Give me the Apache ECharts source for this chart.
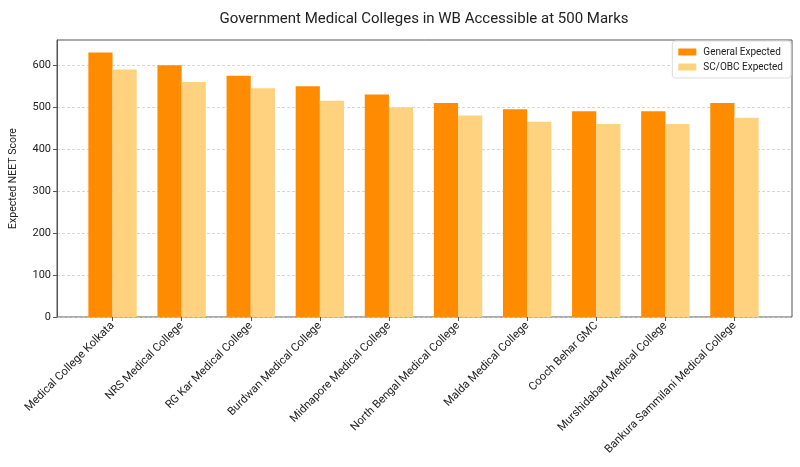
<!DOCTYPE html>
<html>
<head>
<meta charset="utf-8">
<script src="https://cdn.jsdelivr.net/npm/echarts@6/dist/echarts.min.js"></script>
<style>
  html, body { margin: 0; padding: 0; background: #fff; }
  #chart { width: 800px; height: 467px; }
</style>
</head>
<body>
<div id="chart"></div>
<script>
const colleges = [
  'Medical College Kolkata', 'NRS Medical College', 'RG Kar Medical College',
  'Burdwan Medical College', 'Midnapore Medical College', 'North Bengal Medical College',
  'Malda Medical College', 'Cooch Behar GMC', 'Murshidabad Medical College',
  'Bankura Sammilani Medical College',
]
const generalExpected = [630, 600, 575, 550, 530, 510, 495, 490, 490, 510]
const scObcExpected = [590, 560, 545, 515, 500, 480, 465, 460, 460, 475]
const yTicks = [0, 100, 200, 300, 400, 500, 600]

const FONT = 'Roboto, "Open Sans", sans-serif'
const SPINE = '#555'

const chart = echarts.init(document.getElementById('chart'), null, { renderer: 'canvas' })

chart.setOption({
  animation: false,
  textStyle: { fontFamily: FONT },
  title: {
    text: 'Government Medical Colleges in WB Accessible at 500 Marks',
    left: 419,
    textAlign: 'center',
    top: 7,
    textStyle: { fontSize: 15, fontWeight: 'normal', color: '#222', fontFamily: FONT },
  },
  legend: {
    orient: 'vertical',
    right: 9,
    top: 41,
    padding: [6, 8, 6, 6],
    itemGap: 5,
    itemWidth: 18,
    itemHeight: 7,
    borderColor: '#ddd',
    borderWidth: 1,
    borderRadius: 3,
    backgroundColor: '#fff',
    icon: 'rect',
    textStyle: { fontSize: 10, color: '#222', padding: [0, 0, 0, 2] },
    data: ['General Expected', 'SC/OBC Expected'],
  },
  grid: [
    // outer frame, holds the y scale
    { left: 55, right: 8, top: 40, bottom: 150, show: true, borderColor: SPINE, borderWidth: 1 },
    // inner area for the bars, with matplotlib-like side margins
    { left: 78, right: 31, top: 40, bottom: 150 },
  ],
  xAxis: [
    { gridIndex: 0, type: 'value', min: 0, max: 1, show: false },
    {
      gridIndex: 1,
      type: 'category',
      data: colleges,
      axisLine: { show: false },
      axisTick: { show: true, alignWithLabel: true, length: 4, lineStyle: { color: SPINE } },
      axisLabel: { rotate: 45, fontSize: 11.3, color: '#222', margin: 7, interval: 0 },
    },
  ],
  yAxis: [
    {
      gridIndex: 0,
      type: 'value',
      min: 0,
      max: 660,
      interval: 100,
      name: 'Expected NEET Score',
      nameLocation: 'middle',
      nameGap: 38,
      nameMoveOverlap: false,
      nameTextStyle: { fontSize: 10.5, color: '#222' },
      axisLine: { show: true, lineStyle: { color: SPINE } },
      axisTick: { show: true, length: 4, customValues: yTicks, lineStyle: { color: SPINE } },
      axisLabel: { fontSize: 11, color: '#222', margin: 6, customValues: yTicks },
      splitLine: { show: true, lineStyle: { color: '#ccc', type: [3, 2], width: 0.8 } },
    },
    { gridIndex: 1, type: 'value', min: 0, max: 660, show: false },
  ],
  series: [
    {
      name: 'General Expected',
      type: 'bar',
      xAxisIndex: 1,
      yAxisIndex: 1,
      data: generalExpected,
      barWidth: '35%',
      barGap: '0%',
      itemStyle: { color: '#FF8C00' },
    },
    {
      name: 'SC/OBC Expected',
      type: 'bar',
      xAxisIndex: 1,
      yAxisIndex: 1,
      data: scObcExpected,
      barWidth: '35%',
      barGap: '0%',
      itemStyle: { color: '#FFD280' },
    },
  ],
})

window.addEventListener('resize', () => chart.resize())
</script>
</body>
</html>
